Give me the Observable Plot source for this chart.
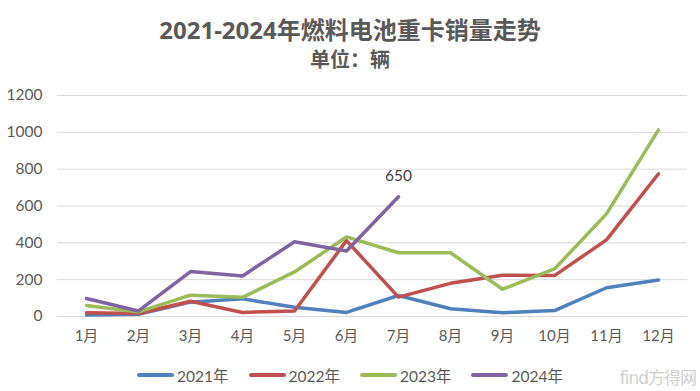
<!DOCTYPE html>
<html><head><meta charset="utf-8">
<script src="https://cdn.jsdelivr.net/npm/d3@7"></script>
<script src="https://cdn.jsdelivr.net/npm/@observablehq/plot@0.6"></script>
<style>
body{margin:0;background:#fff;width:700px;height:391px;overflow:hidden;font-family:Lato,"Noto Sans CJK SC",sans-serif;position:relative}
#title{position:absolute;top:17px;left:0;width:700px;height:26px;line-height:26px;text-align:center;font-size:24px;font-weight:bold;color:#595959;font-family:"Open Sans","Noto Sans CJK SC",sans-serif;}
#sub{position:absolute;top:47px;left:0;width:700px;height:23px;line-height:23px;text-align:center;font-size:20px;font-weight:bold;color:#595959;font-family:"Noto Sans CJK SC",sans-serif;}
#chart{position:absolute;top:80px;left:0}
#legend{position:absolute;top:364px;left:0;width:700px;display:flex;justify-content:center;gap:20px;font-size:15.5px;color:#595959}
.item{display:flex;align-items:center;margin:0}
.sw{width:37px;height:4px;border-radius:2px;margin-right:3px}
#wm{position:absolute;right:4px;bottom:2px;font-size:17px;color:#cfcfcf;font-family:"DejaVu Sans","Noto Sans CJK SC";letter-spacing:-1px}
</style></head>
<body>
<div id="title">2021-2024年燃料电池重卡销量走势</div>
<div id="sub">单位：辆</div>
<div id="chart"></div>
<div id="legend"></div>
<div id="wm">find方得网</div>
<script>
const months = ["1月","2月","3月","4月","5月","6月","7月","8月","9月","10月","11月","12月"];
const seriesNames = ["2021年","2022年","2023年","2024年"];
const colors = ["#4F81BD","#C0504D","#9BBB59","#8064A2"];
const y2021 = [8, 12, 78, 96, 50, 22, 114, 42, 20, 32, 156, 198];
const y2022 = [20, 16, 83, 22, 30, 412, 105, 180, 224, 222, 416, 775];
const y2023 = [60, 25, 116, 104, 242, 432, 346, 346, 148, 258, 557, 1013];
const y2024 = [98, 30, 244, 220, 406, 356, 650];
const yTicks = [0, 200, 400, 600, 800, 1000, 1200];

const allSeries = [y2021, y2022, y2023, y2024];
const data = [];
allSeries.forEach((arr, si) => arr.forEach((v, i) => data.push({month: months[i], value: v, series: seriesNames[si]})));
const last2024 = [{month: months[y2024.length - 1], value: y2024[y2024.length - 1]}];

const plot = Plot.plot({
  width: 700,
  height: 275,
  marginLeft: 57,
  marginRight: 13,
  marginTop: 15,
  marginBottom: 39,
  style: {fontFamily: 'Lato,"Noto Sans CJK SC",sans-serif', fontSize: "15px", color: "#595959", background: "#fff"},
  x: {type: "point", domain: months, padding: 0.5, label: null},
  y: {domain: [0, 1200], label: null},
  color: {domain: seriesNames, range: colors},
  marks: [
    Plot.gridY(yTicks, {stroke: "#d9d9d9", strokeOpacity: 1, strokeWidth: 1}),
    Plot.ruleY([0], {stroke: "#d9d9d9", strokeWidth: 1}),
    Plot.axisY(yTicks, {tickSize: 0, tickPadding: 15, fontSize: 15.5, fill: "#595959", label: null, tickFormat: d => String(d)}),
    Plot.axisX({tickSize: 0, tickPadding: 14, fontSize: 15, fill: "#595959", label: null}),
    Plot.line(data, {x: "month", y: "value", z: "series", stroke: "series", strokeWidth: 3.5, strokeLinejoin: "round", strokeLinecap: "round"}),
    Plot.text(last2024, {x: "month", y: "value", text: d => String(d.value), dy: -21, fontSize: 15.5, fill: "#404040"})
  ]
});
document.getElementById("chart").appendChild(plot);

const lg = document.getElementById("legend");
seriesNames.forEach((n, i) => {
  const it = document.createElement("div");
  it.className = "item";
  it.innerHTML = `<div class="sw" style="background:${colors[i]}"></div><span>${n}</span>`;
  lg.appendChild(it);
});
</script>
</body></html>
